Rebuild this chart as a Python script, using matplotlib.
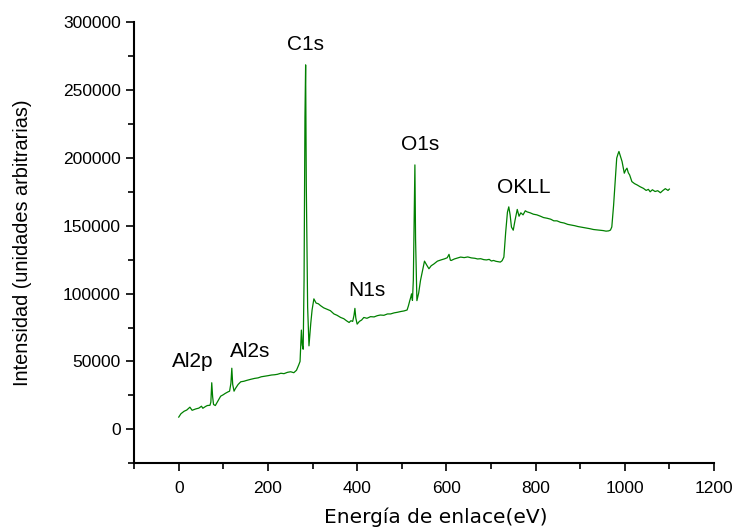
import matplotlib
matplotlib.use("Agg")
import matplotlib.pyplot as plt
from matplotlib.ticker import MultipleLocator

plt.rcParams['font.family'] = ['Liberation Sans', 'DejaVu Sans']

# XPS survey spectrum
energy_ev = [
    0, 5, 12, 18, 25, 30, 38, 45, 51, 54,
    60, 64, 70, 72, 74, 76, 78, 82, 88, 94,
    100, 104, 110, 114, 117, 119, 121, 124, 127, 133,
    139, 146, 152, 161, 170, 178, 185, 191, 200, 208,
    215, 221, 229, 236, 244, 251, 258, 264, 269, 272,
    275, 277, 279, 281, 283, 284.5, 286, 289, 292, 296,
    299, 303, 308, 313, 318, 325, 332, 340, 348, 355,
    363, 370, 376, 382, 386, 390, 393, 395, 397, 400,
    405, 410, 415, 422, 430, 438, 445, 452, 460, 468,
    475, 483, 490, 498, 505, 512, 515, 518, 520, 522,
    524, 526, 528, 529.5, 531, 534, 538, 542, 546, 551,
    556, 561, 566, 572, 580, 588, 596, 602, 606, 609,
    611, 618, 625, 632, 640, 648, 656, 664, 670, 677,
    684, 690, 696, 701, 706, 711, 716, 721, 725, 729,
    733, 737, 740, 743, 746, 750, 754, 759, 763, 767,
    772, 777, 781, 788, 795, 803, 811, 818, 826, 834,
    841, 848, 856, 864, 872, 880, 888, 895, 900, 908,
    915, 922, 930, 938, 945, 952, 958, 964, 968, 971,
    975, 979, 982, 985, 987, 990, 994, 999, 1002, 1005,
    1008, 1011, 1016, 1022, 1028, 1034, 1042, 1048, 1053, 1057,
    1062, 1068, 1074, 1080, 1085, 1091, 1097, 1100,
]
intensity = [
    9000, 11500, 13300, 14200, 16300, 14000, 15000, 15600, 17000, 15500,
    16800, 17500, 17700, 20000, 34300, 24000, 18300, 17500, 21000, 24400,
    25500, 26400, 27500, 28100, 34000, 45000, 33000, 28100, 30000, 33000,
    35000, 35400, 36000, 36800, 37500, 37900, 38700, 39000, 39500, 40000,
    40200, 40500, 41300, 41000, 42000, 42400, 41700, 43500, 47400, 50000,
    73100, 62000, 59000, 110000, 230000, 268500, 180000, 90000, 61500, 78000,
    88000, 96100, 93000, 92500, 91100, 89500, 88500, 87400, 85000, 84000,
    82400, 81500, 80000, 78700, 80000, 79500, 84000, 89100, 82000, 77500,
    79500, 80500, 82400, 81800, 83000, 82800, 83700, 84200, 84000, 85000,
    85000, 85800, 86200, 86800, 87200, 87900, 91000, 94800, 97000, 99800,
    95000, 110000, 160000, 194800, 140000, 94800, 100500, 109600, 116000, 123900,
    121000, 118300, 120500, 121800, 123900, 124800, 125600, 126400, 128900, 124600,
    124400, 125500, 126200, 126900, 126500, 127000, 126300, 126000, 125500, 125700,
    125000, 124800, 125200, 124000, 124400, 123800, 123500, 123200, 124200, 126900,
    145000, 160000, 163900, 158000, 149000, 146700, 154000, 162000, 157000, 159500,
    158000, 161000, 160200, 159500, 158500, 158000, 157000, 156000, 155500, 154800,
    153600, 153600, 152500, 152000, 151000, 150500, 150000, 149400, 149100, 148600,
    148200, 147800, 147200, 146900, 146600, 146400, 146000, 146200, 146800, 149100,
    165000, 185000, 199800, 203000, 204700, 201500, 197300, 188700, 191000, 192400,
    189000, 187400, 182500, 181000, 180000, 178800, 177500, 176000, 176800, 175000,
    176500, 175200, 175800, 174300, 175800, 177300, 176000, 177000,
]

peak_names = ['Al2p', 'Al2s', 'C1s', 'N1s', 'O1s', 'OKLL']
peak_x = [32, 159, 284, 421, 542, 773]
peak_y = [49600, 57000, 283700, 102200, 210100, 178300]

fig = plt.figure(figsize=(7.33, 5.27), dpi=100)
ax = fig.add_axes([0.183, 0.121, 0.791, 0.837])

ax.plot(energy_ev, intensity, color='#008000', lw=0.9)

for name, x, y in zip(peak_names, peak_x, peak_y):
    ax.text(x, y, name, fontsize=15, ha='center', va='center')

ax.set_xlim(-100, 1200)
ax.set_ylim(-25000, 300000)
ax.xaxis.set_major_locator(MultipleLocator(200))
ax.xaxis.set_minor_locator(MultipleLocator(100))
ax.yaxis.set_major_locator(MultipleLocator(50000))
ax.yaxis.set_minor_locator(MultipleLocator(25000))
ax.tick_params(which='major', direction='out', length=6, width=1.2, labelsize=12.5)
ax.tick_params(which='minor', direction='out', length=4, width=1.2)
ax.tick_params(axis='x', which='major', pad=7)

ax.spines['top'].set_visible(False)
ax.spines['right'].set_visible(False)
ax.spines['left'].set_linewidth(1.5)
ax.spines['bottom'].set_linewidth(1.5)

ax.set_xlabel('Energía de enlace(eV)', fontsize=14.5, family='DejaVu Sans')
ax.xaxis.set_label_coords(0.521, -0.1)
ax.set_ylabel('Intensidad (unidades arbitrarias)', fontsize=14.3)
ax.yaxis.set_label_coords(-0.176, 0.5)

fig.savefig('out.png', dpi=100)
